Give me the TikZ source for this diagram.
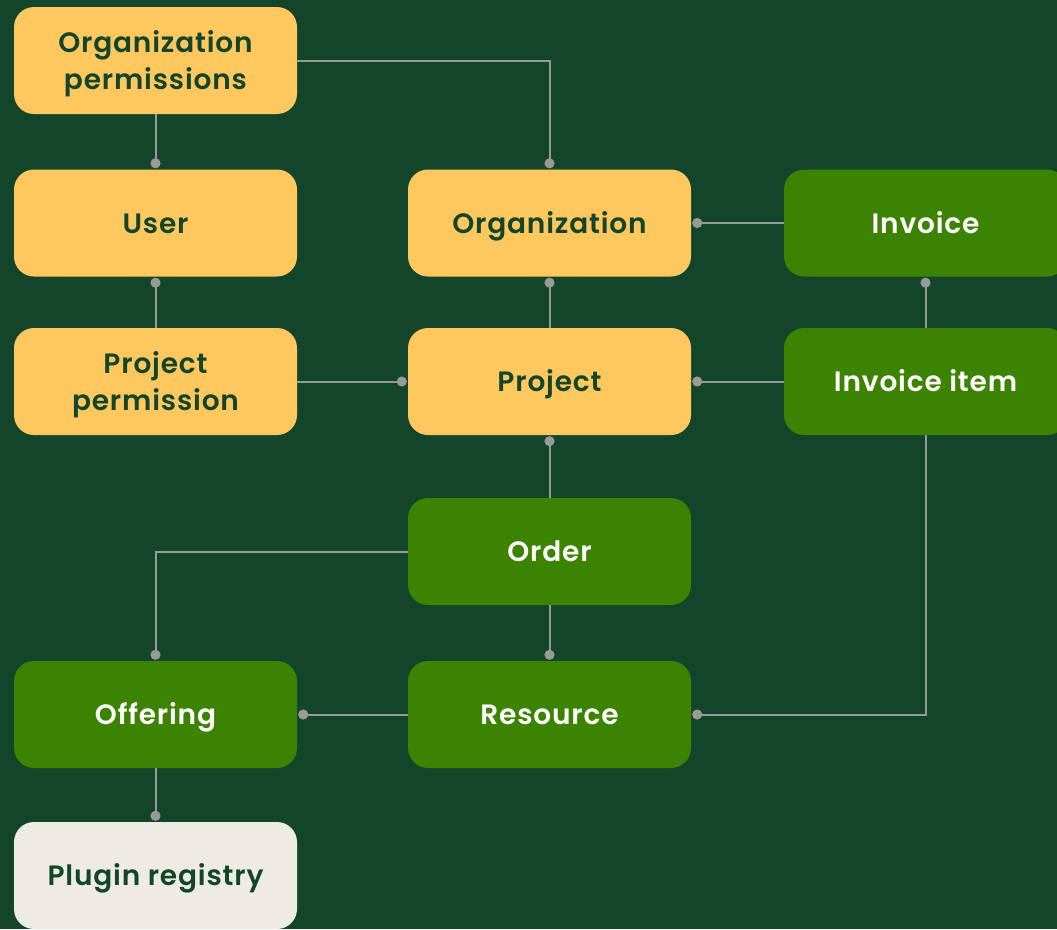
\documentclass[tikz,border=0pt]{standalone}
\usepackage{fontspec}
\setmainfont{Poppins}[BoldFont={Poppins SemiBold}, LetterSpace=3]
\usetikzlibrary{arrows.meta}
\definecolor{bg}{HTML}{13452B}
\definecolor{yel}{HTML}{FFC85E}
\definecolor{grn}{HTML}{3B8300}
\definecolor{lgt}{HTML}{EEEBE5}
\definecolor{lin}{HTML}{9A9A9A}
\tikzset{
  box/.style={rectangle, rounded corners=20pt, minimum width=283pt, minimum height=107pt,
    inner sep=0pt, align=center, text height=20pt, text depth=0pt,
    font=\fontsize{28}{37}\selectfont\bfseries},
  twoline/.style={text height=57pt},
  ybox/.style={box, fill=yel, text=bg},
  gbox/.style={box, fill=grn, text=white},
  lbox/.style={box, fill=lgt, text=bg},
  conn/.style={draw=lin, line width=2pt, shorten >=1pt, -{Circle[length=10pt,width=10pt]}},
}
\begin{document}
\begin{tikzpicture}[x=1pt,y=-1pt]
\useasboundingbox (0,0) rectangle (1057,929);
\fill[bg] (0,0) rectangle (1057,929);
\clip (0,0) rectangle (1057,929);
\node[ybox, twoline] (orgp) at (155.5,60.5) {Organization\\permissions};
\node[ybox] (user) at (155.5,223) {User};
\node[ybox, twoline] (projp) at (155.5,381.5) {Project\\permission};
\node[ybox] (org) at (549.5,223) {Organization};
\node[ybox] (proj) at (549.5,381.5) {Project};
\node[gbox] (inv) at (925.5,223) {Invoice};
\node[gbox] (invi) at (925.5,381.5) {Invoice item};
\node[gbox] (order) at (549.5,551.5) {Order};
\node[gbox] (off) at (155.5,714.5) {Offering};
\node[gbox] (res) at (549.5,714.5) {Resource};
\node[lbox] (plug) at (155.5,875.5) {Plugin registry};

\draw[conn] (orgp.east) -| (org.north);
\draw[conn] (orgp.south) -- (user.north);
\draw[conn] (projp.north) -- (user.south);
\draw[conn] (projp.east) -- (proj.west);
\draw[conn] (proj.north) -- (org.south);
\draw[conn] (inv.west) -- (org.east);
\draw[conn] (invi.north) -- (inv.south);
\draw[conn] (invi.west) -- (proj.east);
\draw[conn] (order.north) -- (proj.south);
\draw[conn] (order.west) -| (off.north);
\draw[conn] (order.south) -- (res.north);
\draw[conn] (res.west) -- (off.east);
\draw[conn] (invi.south) |- (res.east);
\draw[conn] (off.south) -- (plug.north);
\end{tikzpicture}
\end{document}
